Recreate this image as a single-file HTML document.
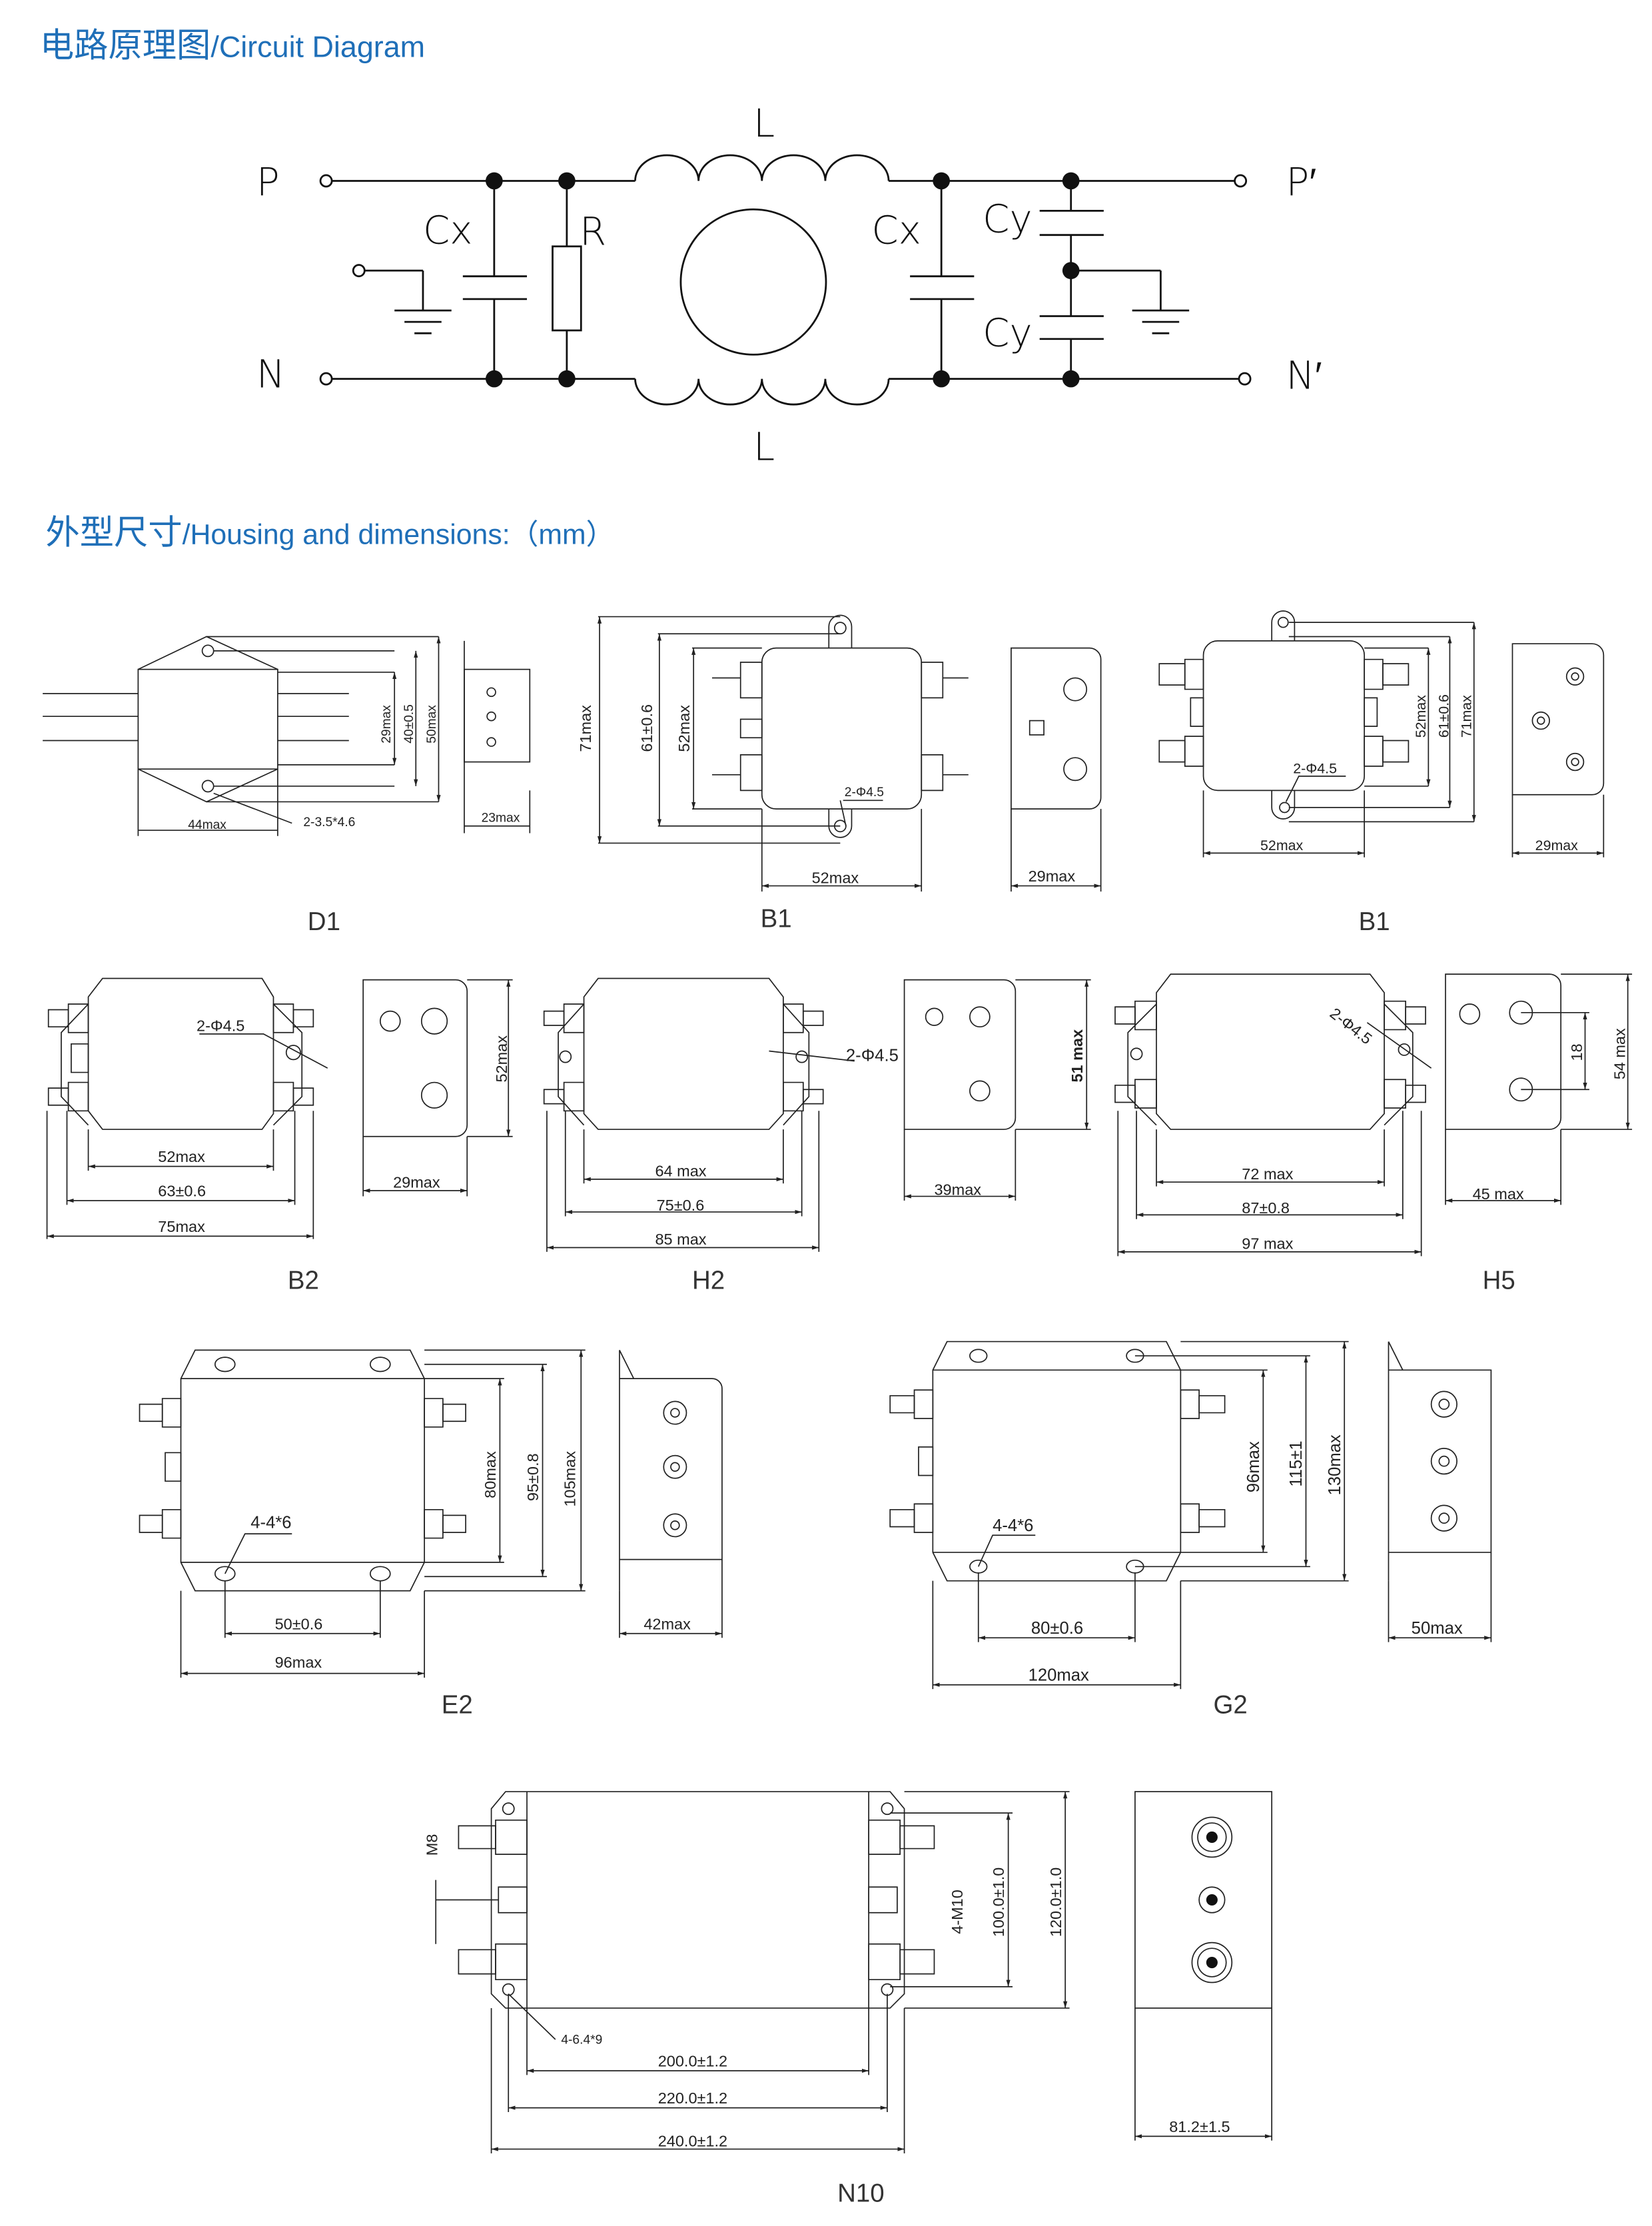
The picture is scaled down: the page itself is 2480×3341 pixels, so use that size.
<!DOCTYPE html>
<html><head><meta charset="utf-8"><style>
html,body{margin:0;padding:0;background:#fff}
svg{display:block}
.t{font-family:"Liberation Sans","Noto Sans CJK SC",sans-serif}
</style></head><body>
<svg width="2480" height="3341" viewBox="0 0 1160 1563" preserveAspectRatio="none" xmlns="http://www.w3.org/2000/svg" class="t">
<defs>
<marker id="a" viewBox="0 0 10 10" refX="10" refY="5" markerWidth="6" markerHeight="6" orient="auto-start-reverse"><path d="M0,2L10,5L0,8z" fill="#222"/></marker>
</defs>
<rect width="1160" height="1563" fill="#fff"/>
<!-- Titles -->
<text x="28" y="40" fill="#1f6fb8" font-size="24" font-family="Noto Sans CJK SC, sans-serif">电路原理图<tspan font-size="21" font-family="Liberation Sans, sans-serif">/Circuit Diagram</tspan></text>
<text x="32" y="382" fill="#1f6fb8" font-size="24" font-family="Noto Sans CJK SC, sans-serif">外型尺寸<tspan font-size="20" font-family="Liberation Sans, sans-serif">/Housing and dimensions:（mm）</tspan></text>

<!-- Circuit -->
<g stroke="#111" stroke-width="1.3" fill="none">
<circle cx="229" cy="127" r="4"/><circle cx="229" cy="266" r="4"/>
<circle cx="871" cy="127" r="4"/><circle cx="874" cy="266" r="4"/>
<line x1="233" y1="127" x2="446" y2="127"/><line x1="624" y1="127" x2="867" y2="127"/>
<line x1="233" y1="266" x2="446" y2="266"/><line x1="624" y1="266" x2="870" y2="266"/>
<path d="M446,127 a22.25,18 0 0 1 44.5,0 a22.25,18 0 0 1 44.5,0 a22.25,18 0 0 1 44.5,0 a22.25,18 0 0 1 44.5,0"/>
<path d="M446,266 a22.25,18 0 0 0 44.5,0 a22.25,18 0 0 0 44.5,0 a22.25,18 0 0 0 44.5,0 a22.25,18 0 0 0 44.5,0"/>
<circle cx="529" cy="198" r="51"/>
<line x1="347" y1="127" x2="347" y2="194"/><line x1="347" y1="210" x2="347" y2="266"/>
<line x1="325" y1="194" x2="370" y2="194"/><line x1="325" y1="210" x2="370" y2="210"/>
<line x1="398" y1="127" x2="398" y2="173"/><line x1="398" y1="232" x2="398" y2="266"/>
<rect x="388" y="173" width="20" height="59"/>
<line x1="661" y1="127" x2="661" y2="194"/><line x1="661" y1="210" x2="661" y2="266"/>
<line x1="639" y1="194" x2="684" y2="194"/><line x1="639" y1="210" x2="684" y2="210"/>
<line x1="752" y1="127" x2="752" y2="148"/><line x1="730" y1="148" x2="775" y2="148"/><line x1="730" y1="165" x2="775" y2="165"/>
<line x1="752" y1="165" x2="752" y2="222"/><line x1="730" y1="222" x2="775" y2="222"/><line x1="730" y1="238" x2="775" y2="238"/>
<line x1="752" y1="238" x2="752" y2="266"/>
<line x1="752" y1="190" x2="815" y2="190"/><line x1="815" y1="190" x2="815" y2="218"/>
<line x1="795" y1="218" x2="835" y2="218"/><line x1="802" y1="226" x2="828" y2="226"/><line x1="809" y1="234" x2="821" y2="234"/>
<circle cx="252" cy="190" r="4"/><line x1="256" y1="190" x2="297" y2="190"/><line x1="297" y1="190" x2="297" y2="218"/>
<line x1="277" y1="218" x2="317" y2="218"/><line x1="284" y1="226" x2="310" y2="226"/><line x1="291" y1="234" x2="303" y2="234"/>
</g>
<g fill="#111"><circle cx="347" cy="127" r="6"/><circle cx="398" cy="127" r="6"/><circle cx="661" cy="127" r="6"/><circle cx="752" cy="127" r="6"/>
<circle cx="347" cy="266" r="6"/><circle cx="398" cy="266" r="6"/><circle cx="661" cy="266" r="6"/><circle cx="752" cy="266" r="6"/><circle cx="752" cy="190" r="6"/></g>
<g font-size="27" fill="#111" font-family="DejaVu Sans, sans-serif" font-weight="200">
<text x="180" y="137">P</text><text x="180" y="272">N</text><text x="903" y="137">P′</text><text x="903" y="273">N′</text>
<text x="529" y="96">L</text><text x="529" y="323">L</text>
<text x="297" y="171">Cx</text><text x="407" y="172">R</text><text x="612" y="171">Cx</text>
<text x="690" y="163">Cy</text><text x="690" y="243">Cy</text>
</g>

<!-- Drawings -->
<g stroke="#222" stroke-width="0.8" fill="none">
<!-- D1 -->
<rect x="97" y="470" width="98" height="70"/>
<path d="M97,470 L145,447 L195,470 M97,540 L145,563 L195,540"/>
<circle cx="146" cy="457" r="4"/><circle cx="146" cy="552" r="4"/>
<path d="M30,487H97M30,503H97M30,520H97M195,487H245M195,503H245M195,520H245"/>
<path d="M150,457H277M150,552H277M145,447H308M145,563H308M195,472H277M195,537H277"/>
<line x1="277" y1="472" x2="277" y2="537" marker-start="url(#a)" marker-end="url(#a)"/>
<line x1="292" y1="457" x2="292" y2="552" marker-start="url(#a)" marker-end="url(#a)"/>
<line x1="308" y1="447" x2="308" y2="563" marker-start="url(#a)" marker-end="url(#a)"/>
<path d="M97,540V587M195,540V587"/><line x1="97" y1="583" x2="195" y2="583"/>
<path d="M150,557L205,578"/>
<rect x="326" y="470" width="46" height="65"/><path d="M326,450V555M372,555V585M326,555V585"/>
<line x1="326" y1="580" x2="372" y2="580"/>
<circle cx="345" cy="486" r="3"/><circle cx="345" cy="503" r="3"/><circle cx="345" cy="521" r="3"/>
<!-- B1 mid -->
<rect x="535" y="455" width="112" height="113" rx="10"/>
<path d="M582,455V440A8,8 0 0 1 598,440V455M582,568V580A8,8 0 0 0 598,580V568"/>
<circle cx="590" cy="441" r="4"/><circle cx="590" cy="580" r="4"/>
<path d="M520,465H535V490H520zM520,530H535V555H520zM647,465H662V490H647zM647,530H662V555H647z"/>
<path d="M500,476H520M500,544H520M662,476H680M662,544H680"/><rect x="520" y="505" width="15" height="13"/>
<path d="M420,433H590M462,445H590M486,455H535M462,580H590M420,592H590M486,568H535"/>
<line x1="421" y1="433" x2="421" y2="592" marker-start="url(#a)" marker-end="url(#a)"/>
<line x1="463" y1="445" x2="463" y2="580" marker-start="url(#a)" marker-end="url(#a)"/>
<line x1="487" y1="455" x2="487" y2="568" marker-start="url(#a)" marker-end="url(#a)"/>
<path d="M535,568V626M647,568V626"/><line x1="535" y1="622" x2="647" y2="622" marker-start="url(#a)" marker-end="url(#a)"/>
<path d="M590,562L594,580"/><line x1="592" y1="562" x2="620" y2="562"/>
<path d="M710,455H765A8,8 0 0 1 773,463V560A8,8 0 0 1 765,568H710z"/><path d="M710,568V626M773,568V626"/>
<line x1="710" y1="622" x2="773" y2="622" marker-start="url(#a)" marker-end="url(#a)"/>
<circle cx="755" cy="484" r="8"/><circle cx="755" cy="540" r="8"/><rect x="723" y="506" width="10" height="10"/>
<!-- B1 right -->
<rect x="845" y="450" width="113" height="105" rx="10"/>
<path d="M893,450V437A8,8 0 0 1 909,437V450M893,555V567A8,8 0 0 0 909,567V555"/>
<circle cx="901" cy="437" r="3.5"/><circle cx="902" cy="567" r="3.5"/>
<path d="M832,463H845V484H832zM836,490H845V510H836zM832,517H845V538H832zM958,463H971V484H958zM958,490H967V510H958zM958,517H971V538H958z"/>
<path d="M814,466H832V481H814zM814,520H832V535H814zM971,466H989V481H971zM971,520H989V535H971z"/>
<path d="M905,437H1035M905,447H1018M958,455H1003M958,552H1003M905,567H1018M905,577H1035"/>
<line x1="1003" y1="455" x2="1003" y2="552" marker-start="url(#a)" marker-end="url(#a)"/>
<line x1="1018" y1="447" x2="1018" y2="567" marker-start="url(#a)" marker-end="url(#a)"/>
<line x1="1035" y1="437" x2="1035" y2="577" marker-start="url(#a)" marker-end="url(#a)"/>
<path d="M845,555V602M958,555V602"/><line x1="845" y1="599" x2="958" y2="599" marker-start="url(#a)" marker-end="url(#a)"/>
<path d="M903,563L912,545H945"/>
<path d="M1062,452H1118A8,8 0 0 1 1126,460V550A8,8 0 0 1 1118,558H1062z"/><path d="M1062,558V602M1126,558V602"/>
<line x1="1062" y1="599" x2="1126" y2="599" marker-start="url(#a)" marker-end="url(#a)"/>
<circle cx="1106" cy="475" r="6"/><circle cx="1106" cy="475" r="2.5"/><circle cx="1082" cy="506" r="6"/><circle cx="1082" cy="506" r="2.5"/><circle cx="1106" cy="535" r="6"/><circle cx="1106" cy="535" r="2.5"/>
<!-- B2 -->
<path d="M72,687H184L192,700V782L184,793H72L62,780V700z"/>
<path d="M62,705L43,725V770L62,790M192,705L212,725V770L192,790"/>
<path d="M48,705H62V725H48zM48,760H62V780H48zM192,705H206V725H192zM192,760H206V780H192zM50,733H62V753H50z"/>
<path d="M34,709H48V721H34zM34,764H48V776H34zM206,709H220V721H206zM206,764H220V776H206z"/>
<circle cx="206" cy="739" r="5"/><path d="M140,726H185L230,750"/>
<path d="M62,793V822M192,793V822M47,780V846M207,780V846M33,780V870M220,780V870"/>
<line x1="62" y1="819" x2="192" y2="819" marker-start="url(#a)" marker-end="url(#a)"/>
<line x1="47" y1="843" x2="207" y2="843" marker-start="url(#a)" marker-end="url(#a)"/>
<line x1="33" y1="868" x2="220" y2="868" marker-start="url(#a)" marker-end="url(#a)"/>
<path d="M255,688H320A8,8 0 0 1 328,696V790A8,8 0 0 1 320,798H255z"/>
<circle cx="274" cy="717" r="7"/><circle cx="305" cy="717" r="9"/><circle cx="305" cy="769" r="9"/>
<path d="M328,688H360M328,798H360M255,798V840M328,798V840"/>
<line x1="357" y1="688" x2="357" y2="798" marker-start="url(#a)" marker-end="url(#a)"/>
<line x1="255" y1="836" x2="328" y2="836" marker-start="url(#a)" marker-end="url(#a)"/>
<!-- H2 -->
<path d="M420,687H540L550,700V782L540,793H420L410,782V700z"/>
<path d="M410,705L392,725V770L410,790M550,705L568,725V770L550,790"/>
<path d="M396,705H410V725H396zM396,760H410V780H396zM550,705H564V725H550zM550,760H564V780H550z"/>
<path d="M382,710H396V720H382zM382,765H396V775H382zM564,710H578V720H564zM564,765H578V775H564z"/>
<circle cx="397" cy="742" r="4"/><circle cx="563" cy="742" r="4"/><path d="M540,738L600,745"/>
<path d="M410,793V831M550,793V831M397,780V854M563,780V854M384,780V879M575,780V879"/>
<line x1="410" y1="828" x2="550" y2="828" marker-start="url(#a)" marker-end="url(#a)"/>
<line x1="397" y1="851" x2="563" y2="851" marker-start="url(#a)" marker-end="url(#a)"/>
<line x1="384" y1="876" x2="575" y2="876" marker-start="url(#a)" marker-end="url(#a)"/>
<path d="M635,688H705A8,8 0 0 1 713,696V785A8,8 0 0 1 705,793H635z"/>
<circle cx="656" cy="714" r="6"/><circle cx="688" cy="714" r="7"/><circle cx="688" cy="766" r="7"/>
<path d="M713,688H766M713,793H766M635,793V843M713,793V843"/>
<line x1="763" y1="688" x2="763" y2="793" marker-start="url(#a)" marker-end="url(#a)"/>
<line x1="635" y1="840" x2="713" y2="840" marker-start="url(#a)" marker-end="url(#a)"/>
<!-- H5 -->
<path d="M822,684H962L972,697V782L962,793H822L812,782V697z"/>
<path d="M812,705L792,725V770L812,790M972,705L992,725V770L972,790"/>
<path d="M797,703H812V723H797zM797,758H812V778H797zM972,703H987V723H972zM972,758H987V778H972z"/>
<path d="M783,707H797V719H783zM783,762H797V774H783zM987,707H1001V719H987zM987,762H1001V774H987z"/>
<circle cx="798" cy="740" r="4"/><circle cx="986" cy="737" r="4"/><path d="M960,718L1005,750"/>
<path d="M812,793V833M972,793V833M798,780V856M985,780V856M785,780V882M998,780V882"/>
<line x1="812" y1="830" x2="972" y2="830" marker-start="url(#a)" marker-end="url(#a)"/>
<line x1="798" y1="853" x2="985" y2="853" marker-start="url(#a)" marker-end="url(#a)"/>
<line x1="785" y1="879" x2="998" y2="879" marker-start="url(#a)" marker-end="url(#a)"/>
<path d="M1015,684H1088A8,8 0 0 1 1096,692V785A8,8 0 0 1 1088,793H1015z"/>
<circle cx="1032" cy="712" r="7"/><circle cx="1068" cy="711" r="8"/><circle cx="1068" cy="765" r="8"/>
<path d="M1068,711H1116M1068,765H1116M1096,684H1146M1096,793H1146M1015,793V846M1096,793V846"/>
<line x1="1113" y1="711" x2="1113" y2="765" marker-start="url(#a)" marker-end="url(#a)"/>
<line x1="1143" y1="684" x2="1143" y2="793" marker-start="url(#a)" marker-end="url(#a)"/>
<line x1="1015" y1="843" x2="1096" y2="843" marker-start="url(#a)" marker-end="url(#a)"/>
<!-- E2 -->
<path d="M137,948H288L298,968V1097L288,1117H137L127,1097V968z"/>
<path d="M127,968H298M127,1097H298"/>
<ellipse cx="158" cy="958" rx="7" ry="5"/><ellipse cx="267" cy="958" rx="7" ry="5"/><ellipse cx="158" cy="1105" rx="7" ry="5"/><ellipse cx="267" cy="1105" rx="7" ry="5"/>
<path d="M114,982H127V1002H114zM116,1020H127V1040H116zM114,1060H127V1080H114zM298,982H311V1002H298zM298,1060H311V1080H298z"/>
<path d="M98,986H114V998H98zM98,1064H114V1076H98zM311,986H327V998H311zM311,1064H327V1076H311z"/>
<path d="M298,968H354M298,958H384M298,948H411M298,1097H354M298,1107H384M298,1117H411"/>
<line x1="351" y1="968" x2="351" y2="1097" marker-start="url(#a)" marker-end="url(#a)"/>
<line x1="381" y1="958" x2="381" y2="1107" marker-start="url(#a)" marker-end="url(#a)"/>
<line x1="408" y1="948" x2="408" y2="1117" marker-start="url(#a)" marker-end="url(#a)"/>
<path d="M158,1110V1150M267,1110V1150M127,1117V1178M298,1117V1178M158,1105L172,1077H205"/>
<line x1="158" y1="1147" x2="267" y2="1147" marker-start="url(#a)" marker-end="url(#a)"/>
<line x1="127" y1="1175" x2="298" y2="1175" marker-start="url(#a)" marker-end="url(#a)"/>
<path d="M435,948V1117M435,968H500A7,7 0 0 1 507,975V1095H435M435,948L445,968"/>
<circle cx="474" cy="992" r="8"/><circle cx="474" cy="992" r="3"/><circle cx="474" cy="1030" r="8"/><circle cx="474" cy="1030" r="3"/><circle cx="474" cy="1071" r="8"/><circle cx="474" cy="1071" r="3"/>
<path d="M435,1117V1150M507,1095V1150"/><line x1="435" y1="1147" x2="507" y2="1147" marker-start="url(#a)" marker-end="url(#a)"/>
<!-- G2 -->
<path d="M665,942H819L829,962V1090L819,1110H665L655,1090V962z"/>
<path d="M655,962H829M655,1090H829"/>
<ellipse cx="687" cy="952" rx="6" ry="4.5"/><ellipse cx="797" cy="952" rx="6" ry="4.5"/><ellipse cx="687" cy="1100" rx="6" ry="4.5"/><ellipse cx="797" cy="1100" rx="6" ry="4.5"/>
<path d="M642,976H655V996H642zM645,1016H655V1036H645zM642,1056H655V1076H642zM829,976H842V996H829zM829,1056H842V1076H829z"/>
<path d="M625,980H642V992H625zM625,1060H642V1072H625zM842,980H860V992H842zM842,1060H860V1072H842z"/>
<path d="M829,962H890M797,952H920M829,942H947M829,1090H890M797,1100H920M829,1110H947"/>
<line x1="887" y1="962" x2="887" y2="1090" marker-start="url(#a)" marker-end="url(#a)"/>
<line x1="917" y1="952" x2="917" y2="1100" marker-start="url(#a)" marker-end="url(#a)"/>
<line x1="944" y1="942" x2="944" y2="1110" marker-start="url(#a)" marker-end="url(#a)"/>
<path d="M687,1104V1153M797,1104V1153M655,1110V1186M829,1110V1186M687,1100L697,1078H727"/>
<line x1="687" y1="1150" x2="797" y2="1150" marker-start="url(#a)" marker-end="url(#a)"/>
<line x1="655" y1="1183" x2="829" y2="1183" marker-start="url(#a)" marker-end="url(#a)"/>
<path d="M975,942V1110M975,962H1047V1090H975M975,942L985,962"/>
<circle cx="1014" cy="986" r="9"/><circle cx="1014" cy="986" r="3.5"/><circle cx="1014" cy="1026" r="9"/><circle cx="1014" cy="1026" r="3.5"/><circle cx="1014" cy="1066" r="9"/><circle cx="1014" cy="1066" r="3.5"/>
<path d="M975,1110V1153M1047,1090V1153"/><line x1="975" y1="1150" x2="1047" y2="1150" marker-start="url(#a)" marker-end="url(#a)"/>
<!-- N10 -->
<path d="M355,1258H625L635,1270V1400L625,1410H355L345,1400V1270z"/>
<path d="M370,1258V1410M610,1258V1410"/>
<circle cx="357" cy="1270" r="4"/><circle cx="623" cy="1270" r="4"/><circle cx="357" cy="1397" r="4"/><circle cx="623" cy="1397" r="4"/>
<path d="M348,1278H370V1302H348zM350,1325H370V1343H350zM348,1365H370V1390H348zM610,1278H632V1302H610zM610,1325H630V1343H610zM610,1365H632V1390H610z"/>
<path d="M322,1282H348V1298H322zM322,1369H348V1386H322zM632,1282H656V1298H632zM632,1369H656V1386H632z"/>
<path d="M306,1334H350M306,1320V1365"/>
<path d="M625,1273H711M625,1395H711M635,1258H751M635,1410H751"/>
<line x1="708" y1="1273" x2="708" y2="1395" marker-start="url(#a)" marker-end="url(#a)"/>
<line x1="748" y1="1258" x2="748" y2="1410" marker-start="url(#a)" marker-end="url(#a)"/>
<path d="M370,1410V1457M610,1410V1457M357,1400V1483M623,1400V1483M345,1410V1512M635,1410V1512M357,1400L390,1432"/>
<line x1="370" y1="1454" x2="610" y2="1454" marker-start="url(#a)" marker-end="url(#a)"/>
<line x1="357" y1="1480" x2="623" y2="1480" marker-start="url(#a)" marker-end="url(#a)"/>
<line x1="345" y1="1509" x2="635" y2="1509" marker-start="url(#a)" marker-end="url(#a)"/>
<rect x="797" y="1258" width="96" height="152"/>
<circle cx="851" cy="1290" r="14"/><circle cx="851" cy="1290" r="10"/><circle cx="851" cy="1334" r="9"/><circle cx="851" cy="1378" r="14"/><circle cx="851" cy="1378" r="10"/>
<path d="M797,1410V1503M893,1410V1503"/><line x1="797" y1="1500" x2="893" y2="1500" marker-start="url(#a)" marker-end="url(#a)"/>
</g>
<g fill="#111"><circle cx="851" cy="1290" r="4"/><circle cx="851" cy="1334" r="4"/><circle cx="851" cy="1378" r="4"/></g>

<!-- dim labels -->
<g font-size="11" fill="#222">
<text x="132" y="582" font-size="9">44max</text><text x="213" y="580" font-size="9">2-3.5*4.6</text>
<text x="338" y="577" font-size="9">23max</text>
<text transform="translate(274,522) rotate(-90)" font-size="9">29max</text>
<text transform="translate(290,522) rotate(-90)" font-size="9">40±0.5</text>
<text transform="translate(306,522) rotate(-90)" font-size="9">50max</text>
<text transform="translate(415,528) rotate(-90)">71max</text>
<text transform="translate(458,528) rotate(-90)">61±0.6</text>
<text transform="translate(484,528) rotate(-90)">52max</text>
<text x="570" y="620">52max</text><text x="722" y="619">29max</text><text x="593" y="559" font-size="9">2-Φ4.5</text>
<text transform="translate(1001,518) rotate(-90)" font-size="10">52max</text>
<text transform="translate(1017,518) rotate(-90)" font-size="10">61±0.6</text>
<text transform="translate(1033,518) rotate(-90)" font-size="10">71max</text>
<text x="885" y="597" font-size="10">52max</text><text x="1078" y="597" font-size="10">29max</text><text x="908" y="543" font-size="10">2-Φ4.5</text>
<text x="138" y="724">2-Φ4.5</text>
<text x="111" y="816">52max</text><text x="111" y="840">63±0.6</text><text x="111" y="865">75max</text>
<text x="276" y="834">29max</text><text transform="translate(356,760) rotate(-90)">52max</text>
<text x="594" y="745" font-size="12">2-Φ4.5</text>
<text x="460" y="826">64 max</text><text x="461" y="850">75±0.6</text><text x="460" y="874">85 max</text>
<text x="656" y="839">39max</text><text transform="translate(760,760) rotate(-90)" font-weight="bold">51 max</text>
<text transform="translate(933,713) rotate(38)">2-Φ4.5</text>
<text x="872" y="828">72 max</text><text x="872" y="852">87±0.8</text><text x="872" y="877">97 max</text>
<text x="1034" y="842">45 max</text><text transform="translate(1111,745) rotate(-90)">18</text><text transform="translate(1141,758) rotate(-90)">54 max</text>
<text x="176" y="1073" font-size="12">4-4*6</text>
<text transform="translate(348,1052) rotate(-90)">80max</text><text transform="translate(378,1054) rotate(-90)">95±0.8</text><text transform="translate(404,1058) rotate(-90)">105max</text>
<text x="193" y="1144">50±0.6</text><text x="193" y="1171">96max</text><text x="452" y="1144">42max</text>
<text x="697" y="1075" font-size="12">4-4*6</text>
<text transform="translate(884,1048) rotate(-90)" font-size="12">96max</text><text transform="translate(914,1044) rotate(-90)" font-size="12">115±1</text><text transform="translate(941,1050) rotate(-90)" font-size="12">130max</text>
<text x="724" y="1147" font-size="12">80±0.6</text><text x="722" y="1180" font-size="12">120max</text><text x="991" y="1147" font-size="12">50max</text>
<text transform="translate(307,1303) rotate(-90)">M8</text>
<text transform="translate(676,1358) rotate(-90)">4-M10</text>
<text transform="translate(705,1360) rotate(-90)">100.0±1.0</text>
<text transform="translate(745,1360) rotate(-90)">120.0±1.0</text>
<text x="394" y="1435" font-size="9">4-6.4*9</text>
<text x="462" y="1451">200.0±1.2</text><text x="462" y="1477">220.0±1.2</text><text x="462" y="1507">240.0±1.2</text>
<text x="821" y="1497">81.2±1.5</text>
</g>
<g font-size="18" fill="#333">
<text x="216" y="653">D1</text><text x="534" y="651">B1</text><text x="954" y="653">B1</text>
<text x="202" y="905">B2</text><text x="486" y="905">H2</text><text x="1041" y="905">H5</text>
<text x="310" y="1203">E2</text><text x="852" y="1203">G2</text><text x="588" y="1546">N10</text>
</g>
</svg>
</body></html>
